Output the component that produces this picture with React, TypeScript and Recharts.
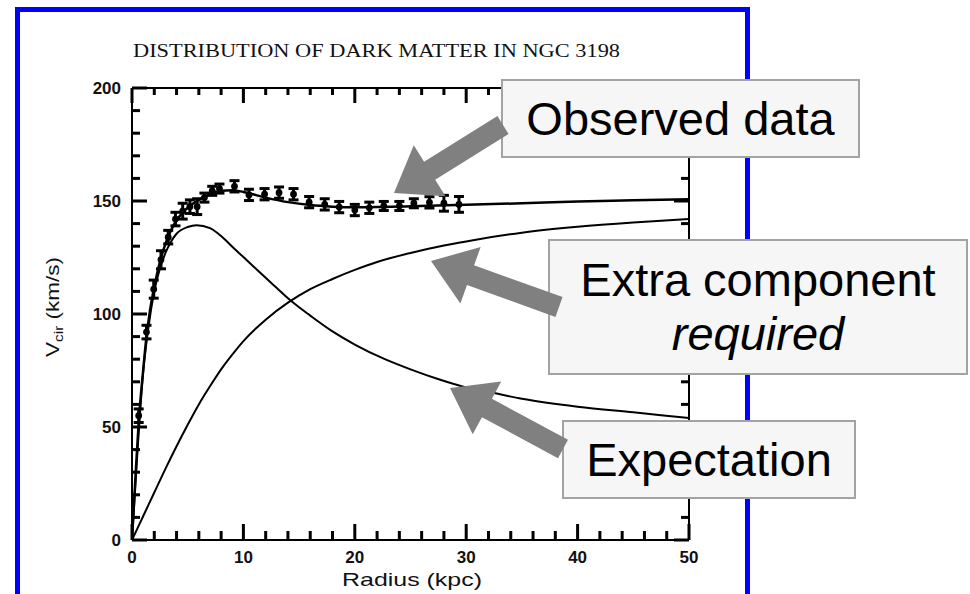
import { ComposedChart, Line, Scatter, ErrorBar, XAxis, YAxis } from "recharts"

// axis ticks (inward, major ones labelled)
const xTicks = [0, 2, 4, 6, 8, 10, 12, 14, 16, 18, 20, 22, 24, 26, 28, 30, 32, 34, 36, 38, 40, 42, 44, 46, 48, 50]
const yTicks = [0, 10, 20, 30, 40, 50, 60, 70, 80, 90, 100, 110, 120, 130, 140, 150, 160, 170, 180, 190, 200]
const xLabels = [0, 10, 20, 30, 40, 50]
const yLabels = [0, 50, 100, 150, 200]

// observed rotation curve of NGC 3198
const obsR = [0.6, 1.3, 1.95, 2.6, 3.25, 3.9, 4.55, 5.2, 5.85, 6.5, 7.2, 7.85, 9.2, 10.5, 11.9, 13.2, 14.5, 15.9, 17.3, 18.6, 20.0, 21.3, 22.6, 24.0, 25.3, 26.7, 28.0, 29.35]
const obsV = [55, 92, 111, 124, 134, 142, 145.5, 147.5, 147.5, 151.5, 154.5, 155.5, 156.5, 152.7, 153, 153.7, 153, 149.5, 148.5, 147.3, 146, 147, 147.8, 147.8, 149, 149.4, 149, 148.5]
const obsErr = [3, 3, 4, 4, 3, 3, 3.5, 3, 3.5, 2, 2, 2, 2.5, 2.5, 2.5, 2.5, 2.5, 2.5, 2.5, 2.5, 2.5, 2.5, 2, 2, 2, 2.5, 3.5, 3.5]

// total fit (disk + halo)
const fitR = [0, 0.3, 0.6, 1, 1.3, 1.6, 2, 2.5, 3, 3.5, 4, 4.5, 5, 6, 7, 8, 9, 10, 12, 14, 16, 18, 20, 22, 25, 30, 35, 40, 45, 50]
const fitV = [0, 27, 52, 75, 90, 101, 112, 123, 131, 137, 141.5, 144.5, 147, 150.5, 153, 154.5, 154.8, 154, 151.5, 149.5, 148.2, 147.5, 147.2, 147.3, 147.7, 148.3, 149, 149.8, 150.3, 150.8]

// disk (expectation)
const diskR = [0, 0.5, 1, 1.5, 2, 2.5, 3, 3.5, 4, 5, 5.8, 7, 8, 9, 10, 11, 12, 13, 14, 15, 16, 18, 20, 22.7, 25, 27.6, 30, 32.5, 35, 40, 45, 50]
const diskV = [0, 40, 74, 95, 110, 120, 127, 132, 135.5, 138.5, 139.3, 138, 134.5, 129.8, 125.2, 120.6, 116, 111.5, 107, 103, 99.3, 92.3, 86.5, 80, 75.5, 71, 67.5, 65, 62.5, 59, 56.5, 54]

// halo (extra component)
const haloR = [0, 1, 2, 3, 4, 5, 6, 7, 8, 9, 10, 12, 14, 16, 18, 20, 22, 25, 28, 31, 35, 40, 45, 50]
const haloV = [0, 10.5, 21, 31.5, 41.5, 51, 60, 68, 75.5, 82, 88, 97.5, 105, 111, 115.5, 119.5, 123, 127, 130.3, 133, 136, 138.6, 140.5, 142]

const obs = obsR.map((r, i) => ({ r, v: obsV[i], err: obsErr[i] }))
const fit = fitR.map((r, i) => ({ r, v: fitV[i] }))
const disk = diskR.map((r, i) => ({ r, v: diskV[i] }))
const halo = haloR.map((r, i) => ({ r, v: haloV[i] }))

const labelFont = "'Liberation Sans', Arial, sans-serif"
const ink = "#111"
const tickW = 3

function BottomTick(p: any) {
  const x = Number(p.x)
  const y = Number(p.y)
  const len = p.payload.value % 10 === 0 ? 16 : 9
  return (
    <g>
      <path d={`M${x},${y}V${y - len}`} stroke="#000" strokeWidth={tickW} fill="none" />
      {xLabels.includes(p.payload.value) && (
        <text x={x} y={y + 23} textAnchor="middle" fontFamily={labelFont} fontWeight="bold" fontSize={17} fill={ink}>
          {`${p.payload.value}`}
        </text>
      )}
    </g>
  )
}

function TopTick(p: any) {
  const x = Number(p.x)
  const y = Number(p.y)
  const len = p.payload.value % 10 === 0 ? 15 : 7
  return (
    <g>
      <path d={`M${x},${y}V${y + len}`} stroke="#000" strokeWidth={tickW} fill="none" />
    </g>
  )
}

function LeftTick(p: any) {
  const x = Number(p.x)
  const y = Number(p.y)
  const len = p.payload.value % 50 === 0 ? 15 : 8
  return (
    <g>
      <path d={`M${x},${y}H${x + len}`} stroke="#000" strokeWidth={tickW} fill="none" />
      {yLabels.includes(p.payload.value) && (
        <text x={x - 11} y={y} dy="0.36em" textAnchor="end" fontFamily={labelFont} fontWeight="bold" fontSize={17} fill={ink}>
          {`${p.payload.value}`}
        </text>
      )}
    </g>
  )
}

function RightTick(p: any) {
  const x = Number(p.x)
  const y = Number(p.y)
  const len = p.payload.value % 50 === 0 ? 15 : 8
  return (
    <g>
      <path d={`M${x},${y}H${x - len}`} stroke="#000" strokeWidth={tickW} fill="none" />
    </g>
  )
}

const dotShape = (p: any) => <circle cx={p.cx} cy={p.cy} r={3.4} fill="#000" />

function arrowPoints(tip: number[], end: number[], headLen = 42, headHalf = 30, shaftHalf = 10.5) {
  const dx = end[0] - tip[0]
  const dy = end[1] - tip[1]
  const len = Math.hypot(dx, dy)
  const ux = dx / len
  const uy = dy / len
  const nx = -uy
  const ny = ux
  const bx = tip[0] + ux * headLen
  const by = tip[1] + uy * headLen
  const pts = [
    [tip[0], tip[1]],
    [bx + nx * headHalf, by + ny * headHalf],
    [bx + nx * shaftHalf, by + ny * shaftHalf],
    [end[0] + nx * shaftHalf, end[1] + ny * shaftHalf],
    [end[0] - nx * shaftHalf, end[1] - ny * shaftHalf],
    [bx - nx * shaftHalf, by - ny * shaftHalf],
    [bx - nx * headHalf, by - ny * headHalf],
  ]
  return pts.map((q) => q.join(",")).join(" ")
}

const boxStyle: React.CSSProperties = {
  position: "absolute",
  boxSizing: "border-box",
  background: "#f6f6f6",
  border: "2px solid #a3a3a3",
  fontFamily: "'Liberation Sans', Arial, sans-serif",
  fontSize: 47,
  color: "#000",
  display: "flex",
  flexDirection: "column",
  alignItems: "center",
  justifyContent: "center",
  lineHeight: "54px",
}

const axisCommon = {
  type: "number" as const,
  interval: 0 as const,
  allowDataOverflow: true,
  tickSize: 0,
  tickMargin: 0,
  tickLine: false,
  axisLine: { stroke: "#000", strokeWidth: 2 },
}

export default function App() {
  return (
    <div style={{ position: "absolute", left: 0, top: 0, width: 970, height: 594, background: "#fff", overflow: "hidden" }}>
      <div style={{ position: "absolute", left: 15, top: 7, width: 735, height: 592, boxSizing: "border-box", border: "5px solid #0000ff" }} />
      <div style={{ position: "absolute", left: 0, top: 0 }}>
        <ComposedChart width={970} height={594} margin={{ top: 78, right: 271, bottom: 24, left: 92 }}>
          <XAxis {...axisCommon} dataKey="r" domain={[0, 50]} ticks={xTicks} tick={BottomTick} height={30} />
          <XAxis {...axisCommon} xAxisId="top" orientation="top" dataKey="r" domain={[0, 50]} ticks={xTicks} tick={TopTick} height={10} />
          <YAxis {...axisCommon} domain={[0, 200]} ticks={yTicks} tick={LeftTick} width={40} />
          <YAxis {...axisCommon} yAxisId="right" orientation="right" domain={[0, 200]} ticks={yTicks} tick={RightTick} width={10} />
          <Line data={halo} dataKey="v" type="monotone" stroke="#000" strokeWidth={2} dot={false} isAnimationActive={false} />
          <Line data={disk} dataKey="v" type="monotone" stroke="#000" strokeWidth={2} dot={false} isAnimationActive={false} />
          <Line data={fit} dataKey="v" type="monotone" stroke="#000" strokeWidth={2.5} dot={false} isAnimationActive={false} />
          <Scatter data={obs} dataKey="v" shape={dotShape} isAnimationActive={false}>
            <ErrorBar dataKey="err" direction="y" width={5} stroke="#000" strokeWidth={3} isAnimationActive={false} />
          </Scatter>
        </ComposedChart>
      </div>
      <svg width={970} height={594} style={{ position: "absolute", left: 0, top: 0, pointerEvents: "none" }}>
        <text x={133} y={57} fontFamily="'Liberation Serif', 'Times New Roman', serif" fontSize={19} fill={ink} textLength={487} lengthAdjust="spacingAndGlyphs">
          DISTRIBUTION OF DARK MATTER IN NGC 3198
        </text>
        <text x={412} y={586} textAnchor="middle" fontFamily={labelFont} fontSize={19} fill={ink} textLength={140} lengthAdjust="spacingAndGlyphs">
          Radius  (kpc)
        </text>
        <text transform="translate(59,307) rotate(-90)" textAnchor="middle" fontFamily={labelFont} fontSize={19} fill={ink} textLength={100} lengthAdjust="spacingAndGlyphs">
          V<tspan dy={4} fontSize={13}>cir</tspan>
          <tspan dy={-4}>{"  (km/s)"}</tspan>
        </text>
      </svg>
      <div style={{ ...boxStyle, left: 501, top: 79, width: 359, height: 79 }}>Observed data</div>
      <div style={{ ...boxStyle, left: 548, top: 239, width: 420, height: 136 }}>
        <span>Extra component</span>
        <span style={{ fontStyle: "italic" }}>required</span>
      </div>
      <div style={{ ...boxStyle, left: 562, top: 420, width: 294, height: 79 }}>Expectation</div>
      <svg width={970} height={594} style={{ position: "absolute", left: 0, top: 0, pointerEvents: "none" }}>
        <polygon points={arrowPoints([394, 193], [503, 125])} fill="#808080" />
        <polygon points={arrowPoints([431, 261], [559, 307])} fill="#808080" />
        <polygon points={arrowPoints([450, 388], [563, 449])} fill="#808080" />
      </svg>
    </div>
  )
}
